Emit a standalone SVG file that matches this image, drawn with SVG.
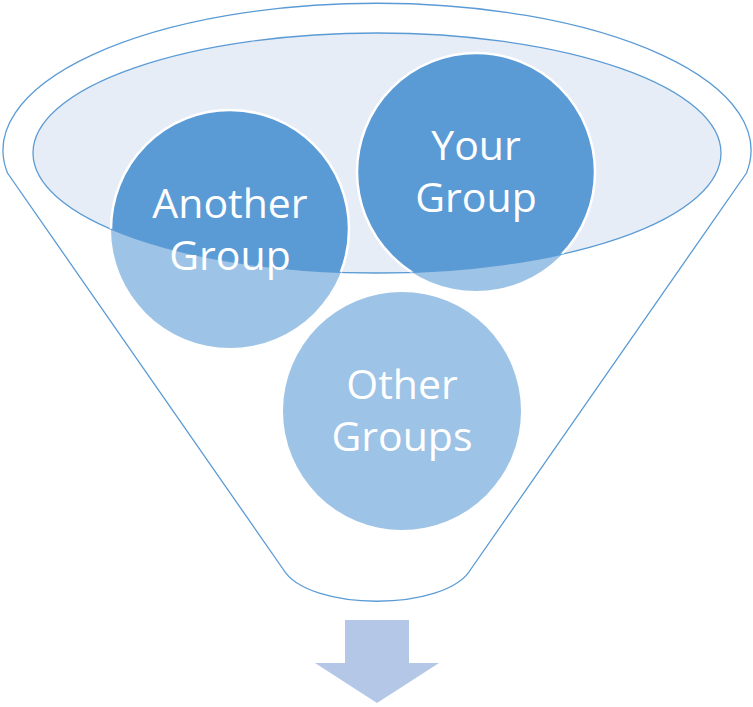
<svg xmlns="http://www.w3.org/2000/svg" xmlns:xlink="http://www.w3.org/1999/xlink" width="753" height="707" viewBox="0 0 753 707">
  <style>
    .outline { fill: none; stroke: #5B9BD5; stroke-width: 1.3; }
    .light { fill: #9DC3E6; }
    .dark { fill: #5B9BD5; stroke: #FFFFFF; stroke-width: 2.5; }
    .label { font-family: "Open Sans", "Liberation Sans", sans-serif; font-size: 41px; fill: #FFFFFF; text-anchor: middle; }
  </style>
  <defs>
    <ellipse id="rim" cx="377" cy="153" rx="344" ry="120"/>
    <clipPath id="clip-inner"><use xlink:href="#rim"/></clipPath>
    <clipPath id="clip-another"><circle cx="230" cy="229" r="119"/></clipPath>
    <clipPath id="clip-your"><circle cx="476" cy="172" r="119"/></clipPath>
  </defs>
  <rect width="753" height="707" fill="#FFFFFF"/>

  <g id="funnel">
    <path class="outline" d="M 7.5,173 A 374,147 0 1 1 746.5,173 L 471,569 C 446,612 308,612 283,569 Z" style="fill:#FFFFFF"/>
    <use xlink:href="#rim" fill="#E6EDF7" stroke="#5B9BD5" stroke-width="1.3"/>
  </g>

  <g id="node-another">
    <circle class="light" cx="230" cy="229" r="119"/>
    <circle class="dark" cx="230" cy="229" r="119" clip-path="url(#clip-inner)"/>
    <g clip-path="url(#clip-another)"><use xlink:href="#rim" class="outline"/></g>
    <text class="label" x="230" y="218">Another</text>
    <text class="label" x="230" y="270">Group</text>
  </g>

  <g id="node-your">
    <circle class="light" cx="476" cy="172" r="119"/>
    <circle class="dark" cx="476" cy="172" r="119" clip-path="url(#clip-inner)"/>
    <g clip-path="url(#clip-your)"><use xlink:href="#rim" class="outline"/></g>
    <text class="label" x="476" y="160">Your</text>
    <text class="label" x="476" y="212">Group</text>
  </g>

  <g id="node-other">
    <circle class="light" cx="402" cy="411" r="119"/>
    <text class="label" x="402" y="399">Other</text>
    <text class="label" x="402" y="451">Groups</text>
  </g>

  <g id="connectors">
    <path fill="#B4C7E7" d="M 345,620 L 409,620 L 409,663 L 439,663 L 377,703 L 315,663 L 345,663 Z"/>
  </g>
</svg>
